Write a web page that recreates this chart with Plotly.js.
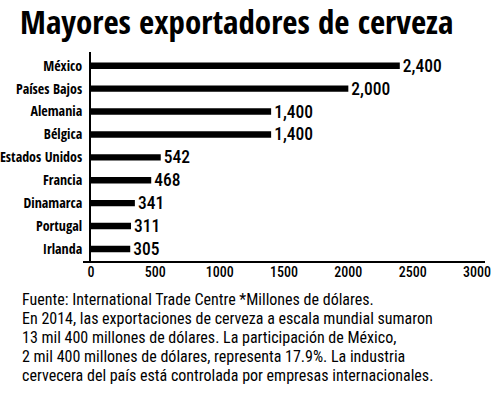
<!DOCTYPE html>
<html>
<head>
<meta charset="utf-8">
<script src="https://cdn.plot.ly/plotly-3.0.1.min.js"></script>
<style>html,body{margin:0;padding:0;background:#fff;}#chart{width:500px;height:393px;}</style>
</head>
<body>
<div id="chart"></div>
<script>
const countries = ["México","Países Bajos","Alemania","Bélgica","Estados Unidos","Francia","Dinamarca","Portugal","Irlanda"];
const exportsMusd = [2400,2000,1400,1400,542,468,341,311,305];
const valueLabels = ["2,400","2,000","1,400","1,400","542","468","341","311","305"];
const xTicks = [0,500,1000,1500,2000,2500,3000];
const titleText = "Mayores exportadores de cerveza";
const footerLines = [
  "Fuente: International Trade Centre *Millones de dólares.",
  "En 2014, las exportaciones de cerveza a escala mundial sumaron",
  "13 mil 400 millones de dólares. La participación de México,",
  "2 mil 400 millones de dólares, representa 17.9%. La industria",
  "cervecera del país está controlada por empresas internacionales."
];

const COND = "'Roboto Condensed', 'DejaVu Sans Condensed', sans-serif";
const COND_BOLD = "'Open Sans Condensed', 'Roboto Condensed', sans-serif";

// plot area geometry (pixels)
const L = 91, R = 23, T = 52, B = 131;
const plotH = 393 - T - B;
const plotW = 500 - L - R;
const footerCenters = [299.5, 318, 337, 356, 375];

const annotations = footerLines.map((t, i) => ({
  text: t, xref: 'paper', yref: 'paper',
  x: (20 - L) / plotW, y: (393 - B - footerCenters[i]) / plotH,
  xanchor: 'left', yanchor: 'middle', showarrow: false,
  font: {family: COND, size: 16, color: '#000'}
}));

const trace = {
  type: 'bar', orientation: 'h',
  y: countries, x: exportsMusd,
  text: valueLabels, textposition: 'outside', cliponaxis: false,
  constraintext: 'none',
  textfont: {family: COND, size: 17.5, color: '#000', weight: 500},
  marker: {color: '#000'},
  width: 0.28,
  hoverinfo: 'none'
};

const layout = {
  width: 500, height: 393,
  margin: {l: L, r: R, t: T, b: B, pad: 0},
  paper_bgcolor: '#fff', plot_bgcolor: '#fff',
  showlegend: false,
  title: {
    text: titleText, xref: 'container', yref: 'container',
    x: 20 / 500, xanchor: 'left', y: 1 - 22 / 393, yanchor: 'middle',
    font: {family: COND_BOLD, size: 33, color: '#000'}
  },
  xaxis: {
    range: [0, 3000], tickvals: xTicks, ticktext: xTicks.map(String),
    showgrid: false, zeroline: false, showline: false,
    ticks: '', tickfont: {family: COND, size: 14, color: '#000', weight: 500}
  },
  yaxis: {
    type: 'category', range: [8.57, -0.6],
    showgrid: false, zeroline: false,
    showline: true, linecolor: '#000', linewidth: 2,
    ticks: 'outside', ticklen: 4, tickcolor: 'rgba(0,0,0,0)',
    tickfont: {family: COND_BOLD, size: 14, color: '#000'}
  },
  shapes: [{
    type: 'line', xref: 'paper', yref: 'paper',
    x0: (83 - L) / plotW, x1: (485 - L) / plotW, y0: 0, y1: 0,
    line: {color: '#000', width: 2}
  }],
  annotations: annotations
};

Plotly.newPlot('chart', [trace], layout, {staticPlot: true, displayModeBar: false});
</script>
</body>
</html>
